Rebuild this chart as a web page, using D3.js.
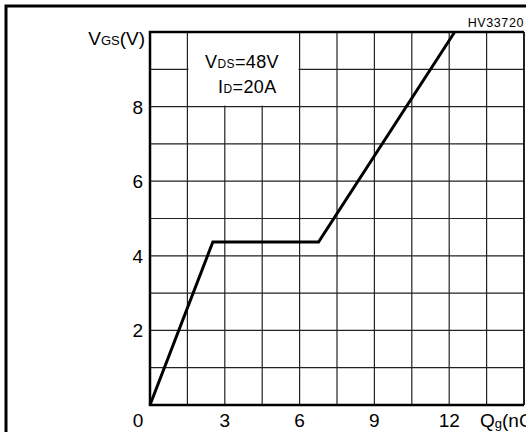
<!DOCTYPE html>
<html>
<head>
<meta charset="utf-8">
<script src="https://cdn.jsdelivr.net/npm/d3@7/dist/d3.min.js"></script>
<style>
  html, body { margin: 0; padding: 0; background: #fff; }
  svg { display: block; font-family: 'Liberation Sans', Arial, sans-serif; }
</style>
</head>
<body>
<svg id="chart" width="526" height="432"></svg>
<script>
'use strict';

// gate charge curve
const qg = [0, 2.52, 6.76, 12.22];
const vgs = [0, 4.37, 4.37, 10];

const xTicks = [0, 3, 6, 9, 12];
const yTicks = [0, 2, 4, 6, 8];
const xGrid = d3.range(0, 15.01, 1.5);
const yGrid = d3.range(0, 10.01, 1);

const margin = {top: 32, right: 2, bottom: 27, left: 150};
const W = 526, H = 432;

const svg = d3.select('#chart');

// outer frame (runs past the window on right and bottom)
svg.append('path')
    .attr('d', `M6,${H + 10}V6H${W + 10}`)
    .style('fill', 'none')
    .style('stroke', '#000')
    .style('stroke-width', 3);

const x = d3.scaleLinear().domain([0, 15]).range([margin.left, W - margin.right]);
const y = d3.scaleLinear().domain([0, 10]).range([H - margin.bottom, margin.top]);

const g = svg.append('g');

g.selectAll('.vgrid')
    .data(xGrid)
  .enter().append('line')
    .attr('x1', d => x(d)).attr('x2', d => x(d))
    .attr('y1', y(0)).attr('y2', y(10))
    .style('stroke', '#222')
    .style('stroke-width', 1.2);

g.selectAll('.hgrid')
    .data(yGrid)
  .enter().append('line')
    .attr('x1', x(0)).attr('x2', x(15))
    .attr('y1', d => y(d)).attr('y2', d => y(d))
    .style('stroke', '#222')
    .style('stroke-width', 1.2);

// blank area behind the condition note
g.append('rect')
    .attr('x', x(1.5) + 1)
    .attr('y', y(10) + 1)
    .attr('width', x(6) - x(1.5) - 2)
    .attr('height', y(8) - y(10) - 2)
    .style('fill', '#fff');

// plot frame
g.append('path')
    .attr('d', `M${x(15)},${y(10)}H${x(0)}V${y(0)}H${x(15)}`)
    .style('fill', 'none')
    .style('stroke', '#000')
    .style('stroke-width', 2.5);
g.append('line')
    .attr('x1', x(15)).attr('x2', x(15))
    .attr('y1', y(10)).attr('y2', y(0))
    .style('stroke', '#000')
    .style('stroke-width', 1.5);

const line = d3.line()
    .x((d, i) => x(qg[i]))
    .y(d => y(d));

g.append('path')
    .datum(vgs)
    .attr('d', line)
    .style('fill', 'none')
    .style('stroke', '#000')
    .style('stroke-width', 3)
    .style('stroke-linejoin', 'miter');

const fs = 19;

g.selectAll('.xlab')
    .data(xTicks)
  .enter().append('text')
    .attr('x', d => d === 0 ? x(d) - 12 : x(d))
    .attr('y', 427)
    .attr('text-anchor', 'middle')
    .style('font-size', fs + 'px')
    .text(d => d);

g.selectAll('.ylab')
    .data(yTicks.filter(d => d > 0))
  .enter().append('text')
    .attr('x', x(0) - 7)
    .attr('y', d => y(d) + 7)
    .attr('text-anchor', 'end')
    .style('font-size', fs + 'px')
    .text(d => d);

// axis titles
const yt = svg.append('text')
    .attr('x', 145)
    .attr('y', 45)
    .attr('text-anchor', 'end')
    .style('font-size', fs + 'px');
yt.append('tspan').text('V');
yt.append('tspan').style('font-size', '13px').text('GS');
yt.append('tspan').text('(V)');

const xt = svg.append('text')
    .attr('x', 480)
    .attr('y', 427)
    .style('font-size', fs + 'px');
xt.append('tspan').text('Q');
xt.append('tspan').style('font-size', '13px').attr('dy', 1).text('g');
xt.append('tspan').attr('dy', -1).text('(nC)');

// condition note
const n1 = svg.append('text')
    .attr('x', 205)
    .attr('y', 68)
    .style('font-size', '18px')
    .style('letter-spacing', '0.4px');
n1.append('tspan').text('V');
n1.append('tspan').style('font-size', '12px').text('DS');
n1.append('tspan').text('=48V');

const n2 = svg.append('text')
    .attr('x', 218)
    .attr('y', 93)
    .style('font-size', '18px')
    .style('letter-spacing', '0.4px');
n2.append('tspan').text('I');
n2.append('tspan').style('font-size', '12px').text('D');
n2.append('tspan').text('=20A');

svg.append('text')
    .attr('x', 524)
    .attr('y', 27)
    .attr('text-anchor', 'end')
    .style('font-size', '12.5px')
    .style('letter-spacing', '0.6px')
    .text('HV33720');
</script>
</body>
</html>
